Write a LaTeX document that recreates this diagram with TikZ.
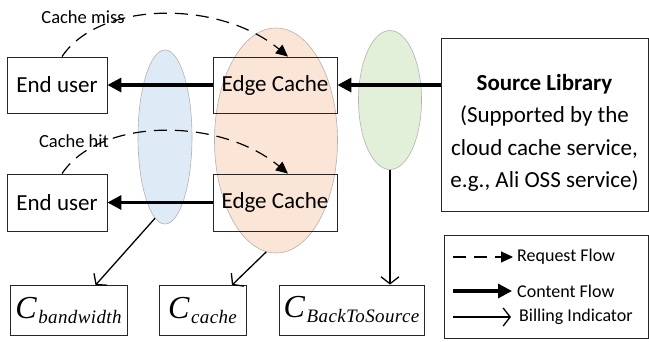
\documentclass[tikz,border=0pt]{standalone}
\usepackage{fontspec}
\setmainfont{Carlito}
\newfontfamily\tms{Liberation Serif}
\usetikzlibrary{arrows.meta,shapes.geometric}
\definecolor{eblue}{RGB}{222,235,247}
\definecolor{eorange}{RGB}{251,229,214}
\definecolor{egreen}{RGB}{226,240,217}
\tikzset{
  box/.style={draw=black!85,line width=0.8pt,inner sep=0pt,font=\fontsize{23}{23}\selectfont},
  cbox/.style={draw=black!85,line width=0.8pt,inner sep=0pt,minimum height=50pt},
  zone/.style={ellipse,draw=black!30,line width=0.6pt,inner sep=0pt},
  reqflow/.style={dashed,dash pattern=on 13pt off 8pt,line width=1.2pt,-{Triangle[length=12pt,width=11pt]}},
  contflow/.style={line width=3.2pt,-{Triangle[length=14pt,width=14pt]}},
  billflow/.style={line width=1.3pt,-{Straight Barb[length=7pt,width=18pt]}},
  lbl/.style={inner sep=0pt,font=\fontsize{18.5}{18.5}\selectfont},
  leglbl/.style={inner sep=0pt,font=\fontsize{18}{18}\selectfont},
  ctext/.style={font=\tms\itshape}
}
\newcommand{\Csub}[1]{\raisebox{-4pt}{\fontsize{32}{32}\selectfont C}\,\raisebox{-9pt}{\fontsize{19}{19}\selectfont\addfontfeatures{LetterSpace=2}#1}}
\begin{document}
\begin{tikzpicture}[x=1pt,y=-1pt]
\useasboundingbox (0,0) rectangle (649,341);
% zones
\node[zone,fill=eblue,minimum width=54pt,minimum height=174pt] (blue) at (165,137) {};
\node[zone,fill=eorange,minimum width=123pt,minimum height=225pt] (orange) at (276,140.5) {};
\node[zone,fill=egreen,minimum width=63pt,minimum height=139pt] (green) at (390,100) {};
% boxes
\node[box,minimum width=100pt,minimum height=56pt] (eu1) at (57,85) {End user};
\node[box,minimum width=124pt,minimum height=56pt] (ec1) at (275,85) {Edge Cache};
\node[box,minimum width=100pt,minimum height=57pt] (eu2) at (57,202.5) {End user};
\node[box,minimum width=124pt,minimum height=57pt] (ec2) at (275,202.5) {Edge Cache};
\node[box,minimum width=207pt,minimum height=173pt,align=center,
      font=\fontsize{23}{32.5}\selectfont] (src) at (544.5,124.5)
  {\rule{0pt}{33pt}\textbf{Source Library}\\(Supported by the\\cloud cache service,\\e.g., Ali OSS service)};
% cost boxes
\node[cbox,ctext,minimum width=117pt] (cb) at (68.5,310.5) {\Csub{bandwidth}};
\node[cbox,ctext,minimum width=87pt] (cc) at (202.5,310.5) {\Csub{cache}};
\node[cbox,ctext,minimum width=145pt] (cbts) at (351.5,310) {\Csub{BackToSource}};
% legend
\node[draw=black!85,line width=0.8pt,minimum width=204pt,minimum height=103pt] (leg) at (546,286.5) {};
\coordinate (l1a) at (453,257);
\coordinate (l1b) at (513,257);
\coordinate (l2a) at (453,291);
\coordinate (l2b) at (512,291);
\coordinate (l3a) at (453,317);
\coordinate (l3b) at (511,317);
\draw[reqflow] (l1a) -- (l1b);
\draw[contflow] (l2a) -- (l2b);
\draw[billflow] (l3a) -- (l3b);
\node[leglbl,anchor=west] (t1) at (517,257) {Request Flow};
\node[leglbl,anchor=west] (t2) at (517,291) {Content Flow};
\node[leglbl,anchor=west] (t3) at (519,317) {Billing Indicator};
% content flow
\draw[contflow] (ec1.west) -- (eu1.east);
\draw[contflow] (src.west |- ec1.east) -- (ec1.east);
\draw[contflow] (ec2.west) -- (eu2.east);
% request flow
\draw[reqflow] ([xshift=5pt]eu1.north) .. controls (100,0) and (220,0) .. ([xshift=13pt]ec1.north);
\draw[reqflow] ([xshift=5pt]eu2.north) .. controls (100,117) and (220,117) .. ([xshift=13pt]ec2.north);
\node[lbl] (miss) at (83,17) {Cache miss};
\node[lbl] (hit) at (74,141) {Cache hit};
% billing
\draw[billflow] (blue.-97) -- ([xshift=27pt]cb.north);
\draw[billflow] (orange.-95.6) -- ([xshift=29.5pt]cc.north);
\draw[billflow] (green.south) -- (green.south |- cbts.north);
\end{tikzpicture}
\end{document}
